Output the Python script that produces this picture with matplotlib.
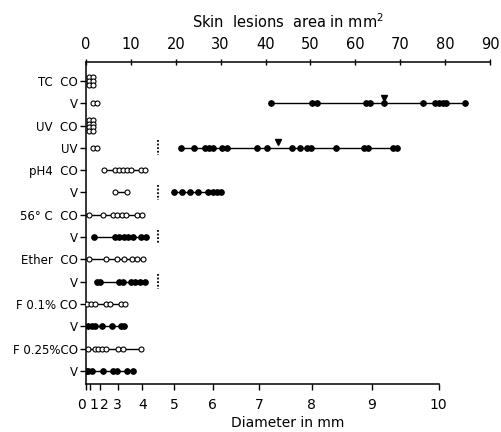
import numpy as np
import matplotlib
matplotlib.use("Agg")
import matplotlib.pyplot as plt
from collections import Counter

# ---------------- data (lesion areas in mm^2) ----------------
row_labels = ["TC  CO", "V", "UV  CO", "UV", "pH4  CO", "V", "56° C  CO", "V",
              "Ether  CO", "V", "F 0.1% CO", "V", "F 0.25%CO", "V"]

open_values = [
    [0.7, 0.7, 0.7, 1.6, 1.6, 1.6],
    [1.6, 2.4],
    [0.7, 0.7, 0.7, 0.7, 1.6, 1.6, 1.6, 1.6],
    [1.6, 2.4],
    [4.0, 6.5, 7.3, 8.2, 9.1, 10.0, 12.2, 13.1],
    [6.5, 9.1],
    [0.7, 3.8, 6.0, 6.9, 8.0, 8.9, 11.4, 12.5],
    [],
    [0.7, 4.5, 6.9, 8.5, 10.2, 11.4, 12.7],
    [],
    [0.2, 1.1, 2.0, 4.5, 5.3, 7.8, 8.7],
    [],
    [0.4, 2.0, 2.7, 3.6, 4.5, 7.1, 8.2, 12.2],
    [],
]

filled_values = [
    [],
    [41.2, 50.3, 51.4, 62.4, 63.3, 66.4, 75.1, 77.7, 78.6, 79.5, 80.2, 84.4],
    [],
    [21.2, 24.1, 26.5, 27.4, 28.3, 30.3, 31.4, 38.1, 40.3, 45.9, 47.7, 49.2,
     50.1, 55.7, 61.9, 62.8, 68.4, 69.3],
    [],
    [19.6, 21.4, 23.2, 24.9, 27.2, 28.3, 29.2, 30.1],
    [],
    [1.8, 6.5, 7.3, 8.5, 9.4, 10.5, 12.2, 13.4],
    [],
    [2.4, 3.1, 7.3, 8.2, 10.0, 10.9, 12.0, 13.1],
    [],
    [0.4, 1.3, 2.0, 3.6, 5.8, 7.8, 8.5],
    [],
    [0.0, 0.4, 1.3, 3.8, 6.0, 6.9, 9.1, 10.5],
]

dotted_rows = [3, 5, 7, 9]
dotted_value = 16.0
mean_rows = [1, 3]
mean_values = [66.4, 42.8]

area_ticks = list(range(0, 91, 10))
diameter_ticks = list(range(0, 11))

# ---------------- figure ----------------
plt.rcParams['font.family'] = ['DejaVu Sans']
fig = plt.figure(figsize=(5.01, 4.32), dpi=100)
ax = fig.add_axes([86 / 501, 1 - 384 / 432, 404 / 501, 322 / 432])

stack_step = 0.17


def stacked_y(vals, row):
    cnt = Counter(vals)
    seen = Counter()
    ys = []
    for v in vals:
        n = cnt[v]
        k = seen[v]
        seen[v] += 1
        ys.append(row + (k - (n - 1) / 2) * stack_step)
    return ys


for row in range(len(row_labels)):
    for vals, face, ms in ((open_values[row], 'white', 3.6),
                           (filled_values[row], 'black', 4.0)):
        if not vals:
            continue
        ax.plot([min(vals), max(vals)], [row, row], color='black', lw=1.0, zorder=2)
        ax.plot(vals, stacked_y(vals, row), linestyle='none', marker='o',
                markersize=ms, markerfacecolor=face, markeredgecolor='black',
                markeredgewidth=0.8, zorder=3)

for row in dotted_rows:
    ax.plot([dotted_value, dotted_value], [row - 0.33, row + 0.33], color='black',
            lw=1.3, linestyle=(0, (1, 1)), zorder=2)

for row, m in zip(mean_rows, mean_values):
    ax.plot([m], [row - 0.24], marker='v', markersize=5, color='black',
            linestyle='none', zorder=4)

ax.set_xlim(0, 90)
ax.set_ylim(len(row_labels) - 1 + 0.59, -0.85)

# left axis
ax.set_yticks(range(len(row_labels)))
ax.set_yticklabels(row_labels, fontsize=8.5)
ax.tick_params(axis='y', direction='out', length=4, width=1.0, pad=2)

# bottom axis: diameter
ax.set_xticks([np.pi * d ** 2 / 4 for d in diameter_ticks])
ax.set_xticklabels([str(d) for d in diameter_ticks], fontsize=10)
labs = ax.get_xticklabels()
labs[0].set_ha('right')
labs[1].set_ha('left')
labs[2].set_ha('left')
ax.tick_params(axis='x', direction='out', length=4, width=1.0, pad=6)
ax.set_xlabel("Diameter in mm", fontsize=10, labelpad=3)

ax.spines['right'].set_visible(False)
ax.spines['top'].set_visible(False)
ax.spines['bottom'].set_bounds(0, np.pi * 10 ** 2 / 4)
for s in ('left', 'bottom'):
    ax.spines[s].set_linewidth(1.1)

# top axis: area
top = ax.secondary_xaxis('top')
top.set_xticks(area_ticks)
top.set_xticklabels([str(a) for a in area_ticks], fontsize=10.5)
top.tick_params(direction='inout', length=5, width=1.0, pad=5)
top.spines['top'].set_linewidth(1.1)
top.set_xlabel("Skin  lesions  area in mm$^2$", fontsize=10.5, labelpad=6)

fig.savefig("out.png", dpi=100)
